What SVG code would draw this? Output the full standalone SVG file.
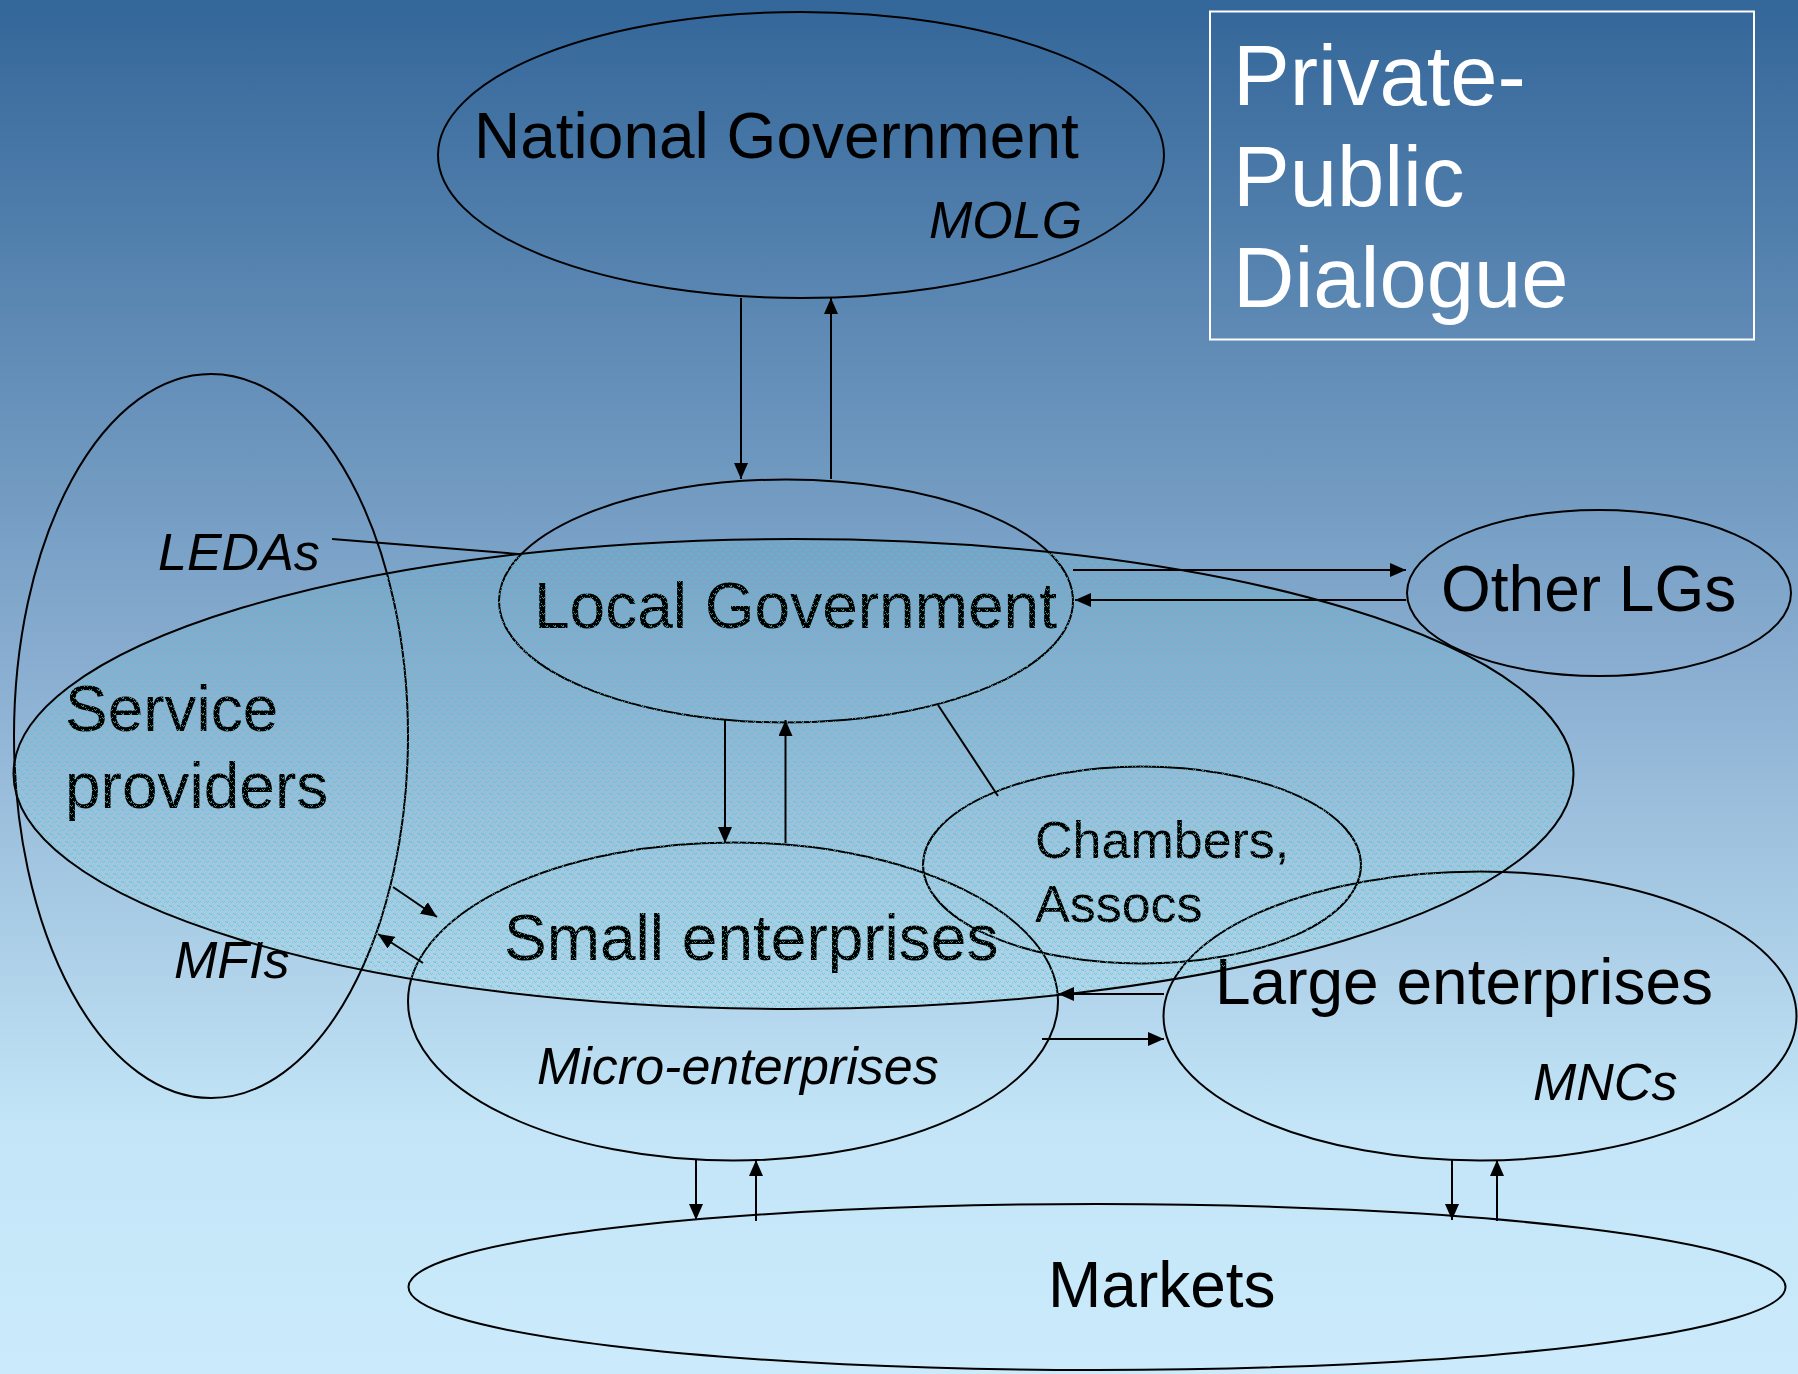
<svg xmlns="http://www.w3.org/2000/svg" width="1798" height="1374" viewBox="0 0 1798 1374">
<defs>
<linearGradient id="bg" x1="0" y1="0" x2="0" y2="1">
<stop offset="0" stop-color="#336699"/>
<stop offset="0.5" stop-color="#8cb0d2"/>
<stop offset="0.82" stop-color="#c3e5f7"/>
<stop offset="1" stop-color="#cbebfc"/>
</linearGradient>
<pattern id="dots" width="8" height="8" patternUnits="userSpaceOnUse">
<g fill="#45cfc4" fill-opacity="0.7">
<rect x="1" y="1" width="1" height="1"/><rect x="3" y="1" width="1" height="1"/>
<rect x="2" y="2" width="2" height="1"/><rect x="5" y="3" width="1" height="1"/>
<rect x="6" y="5" width="1" height="1"/><rect x="7" y="6" width="1" height="1"/>
<rect x="0" y="5" width="1" height="1"/><rect x="4" y="6" width="1" height="1"/>
</g>
</pattern>
<marker id="ah" markerUnits="userSpaceOnUse" markerWidth="16" markerHeight="14" refX="16" refY="7" orient="auto">
<path d="M0,0 L16,7 L0,14 z" fill="#000"/>
</marker>
<style>
.e{fill:none;stroke:#000;stroke-width:2}
.t{font-family:"Liberation Sans",Arial,sans-serif;font-size:64px;fill:#000}
.i{font-family:"Liberation Sans",Arial,sans-serif;font-size:52px;font-style:italic;fill:#000}
.s{font-family:"Liberation Sans",Arial,sans-serif;font-size:52px;fill:#000}
.w{font-family:"Liberation Sans",Arial,sans-serif;font-size:85px;fill:#fff}
.c{stroke:#000;stroke-width:2;fill:none}
.a{stroke:#000;stroke-width:2;fill:none;marker-end:url(#ah)}
</style>
</defs>
<rect x="0" y="0" width="1798" height="1374" fill="url(#bg)"/>

<g id="ppd">
<rect x="1210" y="11.5" width="544" height="328" fill="none" stroke="#fff" stroke-width="2"/>
<text class="w" x="1233" y="105">Private-</text>
<text class="w" x="1233" y="206">Public</text>
<text class="w" x="1233" y="307">Dialogue</text>
</g>

<g id="national-government">
<ellipse class="e" cx="801" cy="155" rx="363" ry="143"/>
<text class="t" x="474" y="158">National Government</text>
<text class="i" x="929" y="238">MOLG</text>
</g>

<g id="service-providers">
<ellipse class="e" cx="211" cy="736" rx="197" ry="362"/>
<text class="t" x="65" y="731">Service</text>
<text class="t" x="65" y="808">providers</text>
<text class="i" x="158" y="570">LEDAs</text>
<text class="i" x="174" y="978">MFIs</text>
</g>

<g id="local-government">
<ellipse class="e" cx="786" cy="601" rx="287" ry="121.5"/>
<text class="t" x="534" y="628">Local Government</text>
</g>

<g id="other-lgs">
<ellipse class="e" cx="1599" cy="593" rx="192" ry="83"/>
<text class="t" x="1441" y="611">Other LGs</text>
</g>

<g id="chambers">
<ellipse class="e" cx="1142" cy="865" rx="219" ry="98.5"/>
<text class="s" x="1035" y="858">Chambers,</text>
<text class="s" x="1035" y="922">Assocs</text>
</g>

<g id="small-enterprises">
<ellipse class="e" cx="733" cy="1001.5" rx="325" ry="159"/>
<text class="t" x="504" y="960">Small enterprises</text>
<text class="i" x="537" y="1084">Micro-enterprises</text>
</g>

<g id="large-enterprises">
<ellipse class="e" cx="1480" cy="1016" rx="316.5" ry="144.5"/>
<text class="t" x="1215" y="1004">Large enterprises</text>
<text class="i" x="1533" y="1100">MNCs</text>
</g>

<g id="markets">
<ellipse class="e" cx="1097" cy="1287" rx="688.5" ry="83"/>
<text class="t" x="1048" y="1307">Markets</text>
</g>

<g id="local-economy">
<ellipse cx="793.5" cy="774" rx="780" ry="235" fill="url(#dots)" stroke="#000" stroke-width="2"/>
</g>

<g id="connectors">
<line class="a" x1="741" y1="298" x2="741" y2="479"/>
<line class="a" x1="831" y1="479" x2="831" y2="298"/>
<line class="a" x1="1073" y1="570" x2="1406" y2="570"/>
<line class="a" x1="1406" y1="600" x2="1075" y2="600"/>
<line class="a" x1="725" y1="720" x2="725" y2="843"/>
<line class="a" x1="785.5" y1="843" x2="785.5" y2="720"/>
<line class="a" x1="393" y1="887" x2="437" y2="917"/>
<line class="a" x1="423" y1="963" x2="378" y2="934"/>
<line class="a" x1="1164" y1="994" x2="1058" y2="994"/>
<line class="a" x1="1042" y1="1039" x2="1164" y2="1039"/>
<line class="a" x1="696" y1="1160" x2="696" y2="1220"/>
<line class="a" x1="756" y1="1221" x2="756" y2="1160"/>
<line class="a" x1="1452" y1="1160" x2="1452" y2="1220"/>
<line class="a" x1="1497" y1="1221" x2="1497" y2="1160"/>
<line class="c" x1="332" y1="539" x2="518" y2="554"/>
<line class="c" x1="938" y1="705" x2="998" y2="796"/>
</g>
</svg>
